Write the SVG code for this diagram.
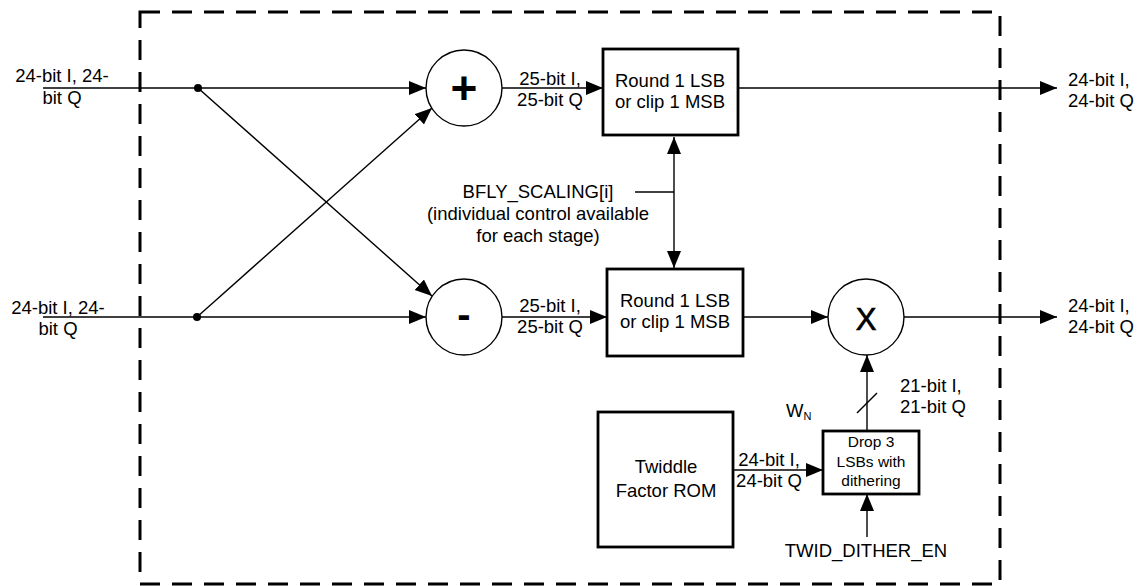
<svg xmlns="http://www.w3.org/2000/svg" width="1138" height="586" viewBox="0 0 1138 586">
  <style>
    text { font-family: "Liberation Sans", Arial, sans-serif; font-size: 18.5px; fill: #000; }
    .mid { text-anchor: middle; }
    .small { font-size: 15.5px; }
    .op { font-weight: bold; text-anchor: middle; }
    .box { fill: #fff; stroke: #000; stroke-width: 2.8; }
    .circ { fill: #fff; stroke: #000; stroke-width: 1.4; }
    .wire { fill: none; stroke: #000; stroke-width: 1.4; }
    .arr { marker-end: url(#ah); }
    .border { fill: none; stroke: #000; stroke-width: 3; stroke-dasharray: 20 12; }
  </style>
  <defs>
    <marker id="ah" markerUnits="userSpaceOnUse" markerWidth="18" markerHeight="15" refX="17" refY="7" orient="auto">
      <path d="M0,0 L17,7 L0,14 z" fill="#000"/>
    </marker>
    <marker id="ahs" markerUnits="userSpaceOnUse" markerWidth="18" markerHeight="15" refX="17" refY="7" orient="auto-start-reverse">
      <path d="M0,0 L17,7 L0,14 z" fill="#000"/>
    </marker>
  </defs>

  <rect id="boundary" class="border" x="140" y="12" width="860" height="572"/>

  <g id="connectors">
    <line class="wire arr" x1="43" y1="88" x2="426" y2="88"/>
    <line class="wire arr" x1="43" y1="317" x2="426" y2="317"/>
    <line class="wire arr" x1="198" y1="88" x2="432" y2="296"/>
    <line class="wire arr" x1="197" y1="317" x2="432" y2="108"/>
    <circle cx="198" cy="88" r="4" fill="#000"/>
    <circle cx="197" cy="317" r="4" fill="#000"/>
    <line class="wire arr" x1="502" y1="88" x2="603" y2="88"/>
    <line class="wire arr" x1="502" y1="317" x2="607" y2="317"/>
    <line class="wire arr" x1="738" y1="88" x2="1057" y2="88"/>
    <line class="wire arr" x1="743" y1="317" x2="828" y2="317"/>
    <line class="wire arr" x1="904" y1="317" x2="1057" y2="317"/>
    <line class="wire" x1="635" y1="192" x2="674" y2="192"/>
    <line class="wire" x1="674" y1="137" x2="674" y2="268" marker-start="url(#ahs)" marker-end="url(#ah)"/>
    <line class="wire arr" x1="733" y1="470" x2="823" y2="470"/>
    <line class="wire arr" x1="867" y1="431" x2="867" y2="355"/>
    <line class="wire" x1="857" y1="413" x2="877" y2="393"/>
    <line class="wire arr" x1="867" y1="537" x2="867" y2="494"/>
  </g>

  <g id="in-top">
    <text class="mid" x="62" y="82">24-bit I, 24-</text>
    <text class="mid" x="62" y="104">bit Q</text>
  </g>
  <g id="in-bottom">
    <text class="mid" x="58" y="314">24-bit I, 24-</text>
    <text class="mid" x="58" y="335">bit Q</text>
  </g>

  <g id="adder">
    <circle class="circ" cx="464" cy="88" r="38"/>
    <text class="op" x="464" y="104" style="font-size:46px">+</text>
  </g>
  <g id="subtractor">
    <circle class="circ" cx="464" cy="317" r="38"/>
    <text class="op" x="464" y="328" style="font-size:40px">-</text>
  </g>

  <g id="label-25-top">
    <text class="mid" x="550" y="85">25-bit I,</text>
    <text class="mid" x="550" y="106">25-bit Q</text>
  </g>
  <g id="label-25-bottom">
    <text class="mid" x="550" y="312">25-bit I,</text>
    <text class="mid" x="550" y="333">25-bit Q</text>
  </g>

  <g id="round-top">
    <rect class="box" x="603" y="49" width="135" height="86"/>
    <text class="mid" x="670" y="87">Round 1 LSB</text>
    <text class="mid" x="670" y="108">or clip 1 MSB</text>
  </g>
  <g id="round-bottom">
    <rect class="box" x="607" y="269" width="136" height="87"/>
    <text class="mid" x="675" y="307">Round 1 LSB</text>
    <text class="mid" x="675" y="328">or clip 1 MSB</text>
  </g>

  <g id="bfly-scaling">
    <text class="mid" x="538" y="198">BFLY_SCALING[i]</text>
    <text class="mid" x="538" y="220">(individual control available</text>
    <text class="mid" x="538" y="242">for each stage)</text>
  </g>

  <g id="multiplier">
    <circle class="circ" cx="866" cy="317" r="38"/>
    <text x="866" y="330" text-anchor="middle" style="font-size:31px;stroke:#000;stroke-width:0.7">X</text>
  </g>

  <g id="out-top">
    <text x="1068" y="86">24-bit I,</text>
    <text x="1068" y="107">24-bit Q</text>
  </g>
  <g id="out-bottom">
    <text x="1068" y="312">24-bit I,</text>
    <text x="1068" y="333">24-bit Q</text>
  </g>

  <g id="twiddle-rom">
    <rect class="box" x="598" y="412" width="135" height="135"/>
    <text class="mid" x="666" y="473">Twiddle</text>
    <text class="mid" x="666" y="497">Factor ROM</text>
  </g>
  <g id="label-24-twiddle">
    <text class="mid" x="769" y="466">24-bit I,</text>
    <text class="mid" x="769" y="487">24-bit Q</text>
  </g>

  <g id="drop-lsbs">
    <rect class="box" x="823" y="431" width="96" height="63"/>
    <text class="mid small" x="871" y="447">Drop 3</text>
    <text class="mid small" x="871" y="467">LSBs with</text>
    <text class="mid small" x="871" y="486">dithering</text>
  </g>

  <g id="label-wn">
    <text x="786" y="417">W<tspan style="font-size:11px" dy="3">N</tspan></text>
  </g>
  <g id="label-21">
    <text x="900" y="392">21-bit I,</text>
    <text x="900" y="413">21-bit Q</text>
  </g>
  <g id="twid-dither">
    <text class="mid" x="866" y="557">TWID_DITHER_EN</text>
  </g>
</svg>
